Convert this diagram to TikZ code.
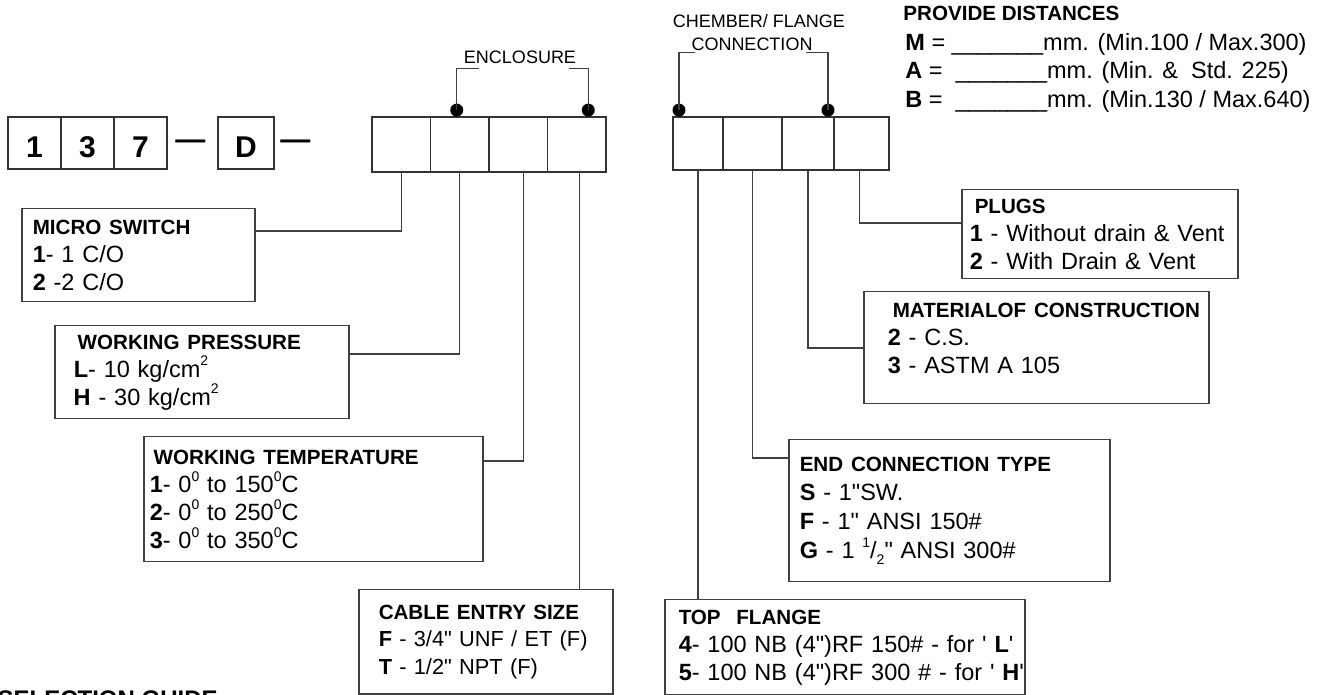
\documentclass[tikz,border=0pt]{standalone}
\usepackage{fontspec}
\setmainfont{Liberation Sans}
\usetikzlibrary{positioning}

\newcommand{\boxhead}[1]{\mbox{\fontsize{10.3}{14}\selectfont\bfseries #1}}
\newcommand{\sups}[1]{\raisebox{0.9ex}{\fontsize{7}{7}\selectfont #1}}
\newcommand{\subs}[1]{\raisebox{-0.5ex}{\fontsize{7}{7}\selectfont #1}}

\begin{document}
\begin{tikzpicture}[
x=0.5pt, y=-0.5pt,
codecell/.style={draw=black!80, line width=0.75pt, outer sep=0pt, minimum width=26.5pt, minimum height=26pt, inner sep=0pt, text height=14.5pt, text depth=0pt, font=\fontsize{15}{17}\selectfont\bfseries},
dashmark/.style={inner sep=0pt, font=\fontsize{15}{17}\selectfont\bfseries},
slot/.style={draw=black!80, line width=0.75pt, outer sep=0pt, minimum width=29.25pt, minimum height=27.5pt, inner sep=0pt},
dot/.style={circle, fill=black, inner sep=0pt, minimum size=6.5pt},
tag/.style={inner sep=0pt, font=\fontsize{9}{10.5}\selectfont},
legendbox/.style={draw=black!75, line width=0.75pt, anchor=north west, align=left, inner sep=0pt, font=\fontsize{11.75}{14}\selectfont},
leftpad/.style={execute at begin node={\leftskip=#1}},
lead/.style={draw=black!75, line width=0.6pt},
]
\useasboundingbox (0,0) rectangle (1330,695);

% Order code boxes
\node[codecell, anchor=north west] (code1) at (8,117) {1};
\node[codecell, right=0pt of code1] (code3) {3};
\node[codecell, right=0pt of code3] (code7) {7};
\node[dashmark, right=4pt of code7, yshift=-1pt] (dash1) {\textemdash};
\node[codecell, minimum width=28pt, anchor=north west] (codeD) at (218,117) {D};
\node[dashmark, right=3pt of codeD, yshift=-1pt] (dash2) {\textemdash};

% Enclosure slots
\node[slot, anchor=north west] (enc1) at (372,117) {};
\node[slot, right=0pt of enc1] (enc2) {};
\node[slot, right=0pt of enc2] (enc3) {};
\node[slot, right=0pt of enc3] (enc4) {};

% Chamber / flange slots
\node[slot, minimum width=25pt, minimum height=26.5pt, anchor=north west] (ch1) at (673,117) {};
\node[slot, minimum width=29.5pt, minimum height=26.5pt, right=0pt of ch1] (ch2) {};
\node[slot, minimum width=26pt, minimum height=26.5pt, right=0pt of ch2] (ch3) {};
\node[slot, minimum width=27.5pt, minimum height=26.5pt, line width=0.9pt, right=0pt of ch3] (ch4) {};

% Bracket labels
\node[tag] (enclbl) at (520,57) {ENCLOSURE};
\node[tag] (chlblb) at (752,44) {CONNECTION};
\node[tag, above=4.5pt of chlblb, xshift=3.5pt] (chlbla) {CHEMBER/ FLANGE};

% Brackets
\node[dot, anchor=south, xshift=-1.5pt] (encdotl) at (enc2.north) {};
\node[dot, anchor=south, xshift=5.75pt] (encdotr) at (enc4.north) {};
\node[dot, anchor=south, xshift=3pt] (chdotl) at (ch1.north west) {};
\node[dot, anchor=south, xshift=-3pt] (chdotr) at (ch3.north east) {};
\draw[lead] (encdotl.center) |- ([xshift=7.5pt, yshift=-2.2pt]enclbl.south west);
\draw[lead] (encdotr.center) |- ([xshift=-3.5pt, yshift=-2.2pt]enclbl.south east);
\draw[lead] (chdotl.center) |- ([xshift=2pt, yshift=-0.75pt]chlblb.south west);
\draw[lead] (chdotr.center) |- ([xshift=-3.5pt, yshift=-0.75pt]chlblb.south east);

% Distances
\node[anchor=west, inner sep=0pt, font=\fontsize{10.3}{12}\selectfont\bfseries] (provide) at (903,13) {PROVIDE DISTANCES};
\node[anchor=north west, inner sep=0pt, align=left, font=\fontsize{11.75}{14.25}\selectfont] (dists) at (905,33)
  {\textbf{M} = \_\_\_\_\_\_\_mm. (Min.100 / Max.300)\\
   \textbf{A} = \ \_\_\_\_\_\_\_mm. (Min. \&\ \ Std. 225)\\
   \textbf{B} = \ \_\_\_\_\_\_\_mm. (Min.130 / Max.640)};

% Legend boxes
\node[legendbox, text width=116.5pt, minimum height=46.5pt, leftpad=5.5pt] (msw) at (21,208)
  {\boxhead{MICRO SWITCH}\\\textbf{1}- 1 C/O\\\textbf{2} -2 C/O};
\node[legendbox, text width=147pt, minimum height=46.5pt, leftpad=9.5pt] (press) at (54,325)
  {\hspace{2pt}\boxhead{WORKING PRESSURE}\\\textbf{L}- 10 kg/cm\sups{2}\\\textbf{H} - 30 kg/cm\sups{2}};
\node[legendbox, text width=169.5pt, minimum height=62.5pt, leftpad=3pt] (temp) at (143,436)
  {\hspace{2pt}\boxhead{WORKING TEMPERATURE}\\
   \textbf{1}- 0\sups{0} to 150\sups{0}C\\
   \textbf{2}- 0\sups{0} to 250\sups{0}C\\
   \textbf{3}- 0\sups{0} to 350\sups{0}C};
\node[legendbox, text width=127pt, minimum height=52pt, leftpad=10pt, font=\fontsize{10.9}{13.75}\selectfont] (cable) at (358,589)
  {\boxhead{CABLE ENTRY SIZE}\\\textbf{F} - 3/4\textquotedbl{} UNF / ET (F)\\\textbf{T} - 1/2\textquotedbl{} NPT (F)};
\node[legendbox, text width=180pt, minimum height=47.5pt, leftpad=7pt] (topfl) at (664,599)
  {\boxhead{TOP\ \ FLANGE}\\
   \textbf{4}- 100 NB (4\textquotedbl)RF 150\# - for \textquotesingle\ \textbf{L}\textquotesingle\\
   \textbf{5}- 100 NB (4\textquotedbl)RF 300 \# - for \textquotesingle\ \textbf{H}\textquotesingle};
\node[legendbox, text width=160.5pt, minimum height=71pt, leftpad=5.5pt, font=\fontsize{11.75}{14.5}\selectfont] (endconn) at (788,439)
  {\boxhead{END CONNECTION TYPE}\\\textbf{S} - 1\textquotedbl SW.\\\textbf{F} - 1\textquotedbl{} ANSI 150\#\\
   \textbf{G} - 1 \sups{1}/\subs{2}\textquotedbl{} ANSI 300\#};
\node[legendbox, text width=172.5pt, minimum height=56pt, leftpad=12pt, text depth=37pt] (material) at (863,291)
  {\hspace{2.5pt}\boxhead{MATERIALOF CONSTRUCTION}\\\textbf{2} - C.S.\\\textbf{3} - ASTM A 105};
\node[legendbox, text width=138pt, minimum height=44.5pt, leftpad=4pt] (plugs) at (961,189)
  {\hspace{2.5pt}\boxhead{PLUGS}\\\textbf{1} - Without drain \& Vent\\\textbf{2} - With Drain \& Vent};

% Leads from slots to legend boxes
\draw[lead] (enc1.south) |- ([yshift=-11.5pt]msw.north east);
\draw[lead] (enc2.south) |- ([yshift=-14.5pt]press.north east);
\draw[lead] ([xshift=2.5pt]enc3.south) |- ([yshift=-12.5pt]temp.north east);
\draw[lead] ([xshift=1.5pt]enc4.south) -- ([xshift=1.5pt]enc4.south |- cable.north);
\draw[lead] (ch1.south) -- (ch1.south |- topfl.north);
\draw[lead] (ch2.south) |- ([yshift=-9.5pt]endconn.north west);
\draw[lead] (ch3.south) |- ([yshift=-28.5pt]material.north west);
\draw[lead] ([xshift=-1pt]ch4.south) |- ([yshift=-17pt]plugs.north west);

% Title, cut at the lower edge
\node[anchor=north east, inner sep=0pt, font=\fontsize{12}{14}\selectfont\bfseries] (guide) at (218,690) {SELECTION GUIDE};
\end{tikzpicture}
\end{document}
